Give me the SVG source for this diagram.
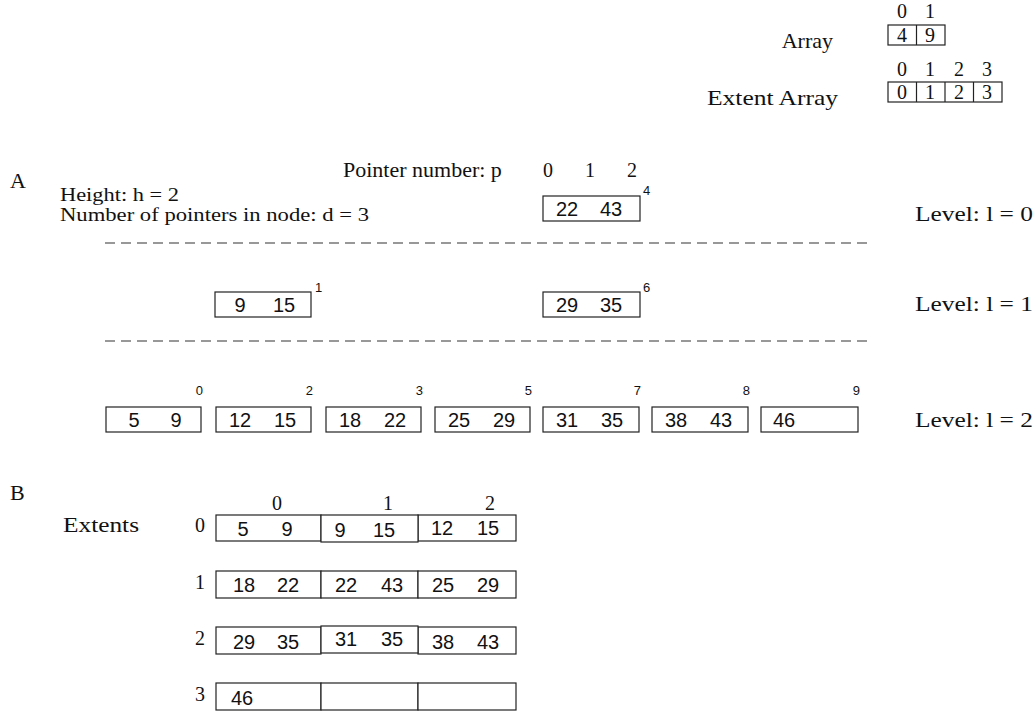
<svg xmlns="http://www.w3.org/2000/svg" width="1036" height="716" viewBox="0 0 1036 716">
  <style>
    .serif { font-family: "Liberation Serif", "Times New Roman", serif; font-size: 22px; fill: #111; }
    .note { font-family: "Liberation Serif", "Times New Roman", serif; font-size: 18px; fill: #111; }
    .label { font-family: "Liberation Serif", "Times New Roman", serif; font-size: 20px; fill: #111; text-anchor: middle; }
    .num { font-family: "Liberation Sans", Arial, sans-serif; font-size: 20px; fill: #111; text-anchor: middle; }
    .sup { font-family: "Liberation Sans", Arial, sans-serif; font-size: 13px; fill: #111; }
    .box { fill: #fff; stroke: #222; stroke-width: 1.2; }
    .div { stroke: #222; stroke-width: 1.2; }
    .dash { stroke: #777; stroke-width: 1.3; stroke-dasharray: 10 6; fill: none; }
  </style>

  <rect width="1036" height="716" fill="#fff"/>

  <!-- legend: array and extent array -->
  <g id="legend-array">
    <text class="serif" x="833" y="48" text-anchor="end">Array</text>
    <text class="label" x="902" y="18">0</text>
    <text class="label" x="930" y="18">1</text>
    <rect class="box" x="888" y="25" width="57" height="20"/>
    <line class="div" x1="916.5" y1="25" x2="916.5" y2="45"/>
    <text class="label" x="902" y="42">4</text>
    <text class="label" x="930" y="42">9</text>
  </g>
  <g id="legend-extent-array">
    <text class="serif" x="707" y="105" textLength="131" lengthAdjust="spacingAndGlyphs">Extent Array</text>
    <text class="label" x="902" y="76">0</text>
    <text class="label" x="930" y="76">1</text>
    <text class="label" x="959" y="76">2</text>
    <text class="label" x="987" y="76">3</text>
    <rect class="box" x="888" y="82" width="114" height="20"/>
    <line class="div" x1="916.5" y1="82" x2="916.5" y2="102"/>
    <line class="div" x1="945" y1="82" x2="945" y2="102"/>
    <line class="div" x1="973.5" y1="82" x2="973.5" y2="102"/>
    <text class="label" x="902" y="99">0</text>
    <text class="label" x="930" y="99">1</text>
    <text class="label" x="959" y="99">2</text>
    <text class="label" x="987" y="99">3</text>
  </g>

  <!-- part A: tree -->
  <g id="part-a-labels">
    <text class="serif" x="10" y="188">A</text>
    <text class="serif" x="343" y="177">Pointer number: p</text>
    <text class="label" x="548" y="177">0</text>
    <text class="label" x="590" y="177">1</text>
    <text class="label" x="632" y="177">2</text>
    <text class="note" x="60" y="201" textLength="119" lengthAdjust="spacingAndGlyphs">Height: h = 2</text>
    <text class="note" x="60" y="221" textLength="309" lengthAdjust="spacingAndGlyphs">Number of pointers in node: d = 3</text>
    <text class="serif" x="915" y="221" textLength="118" lengthAdjust="spacingAndGlyphs">Level: l = 0</text>
    <text class="serif" x="915" y="311" textLength="118" lengthAdjust="spacingAndGlyphs">Level: l = 1</text>
    <text class="serif" x="915" y="427" textLength="118" lengthAdjust="spacingAndGlyphs">Level: l = 2</text>
  </g>

  <g id="level-separators">
    <line class="dash" x1="105" y1="243" x2="872" y2="243"/>
    <line class="dash" x1="105" y1="341" x2="872" y2="341"/>
  </g>

  <g id="node-root">
    <rect class="box" x="543" y="196" width="97" height="25"/>
    <text class="num" x="567" y="216">22</text>
    <text class="num" x="611" y="216">43</text>
    <text class="sup" x="643" y="195">4</text>
  </g>

  <g id="node-l1-a">
    <rect class="box" x="215" y="292" width="96" height="25"/>
    <text class="num" x="240" y="312">9</text>
    <text class="num" x="284" y="312">15</text>
    <text class="sup" x="315" y="292">1</text>
  </g>
  <g id="node-l1-b">
    <rect class="box" x="543" y="292" width="97" height="25"/>
    <text class="num" x="567" y="312">29</text>
    <text class="num" x="611" y="312">35</text>
    <text class="sup" x="643" y="292">6</text>
  </g>

  <g id="leaf-0">
    <rect class="box" x="106" y="407" width="95" height="25"/>
    <text class="num" x="134" y="427">5</text>
    <text class="num" x="176" y="427">9</text>
    <text class="sup" x="203" y="395" text-anchor="end">0</text>
  </g>
  <g id="leaf-2">
    <rect class="box" x="216" y="407" width="95" height="25"/>
    <text class="num" x="240" y="427">12</text>
    <text class="num" x="285" y="427">15</text>
    <text class="sup" x="313" y="395" text-anchor="end">2</text>
  </g>
  <g id="leaf-3">
    <rect class="box" x="326" y="407" width="95" height="25"/>
    <text class="num" x="350" y="427">18</text>
    <text class="num" x="395" y="427">22</text>
    <text class="sup" x="423" y="395" text-anchor="end">3</text>
  </g>
  <g id="leaf-5">
    <rect class="box" x="435" y="407" width="95" height="25"/>
    <text class="num" x="459" y="427">25</text>
    <text class="num" x="504" y="427">29</text>
    <text class="sup" x="532" y="395" text-anchor="end">5</text>
  </g>
  <g id="leaf-7">
    <rect class="box" x="543" y="407" width="96" height="25"/>
    <text class="num" x="567" y="427">31</text>
    <text class="num" x="612" y="427">35</text>
    <text class="sup" x="641" y="395" text-anchor="end">7</text>
  </g>
  <g id="leaf-8">
    <rect class="box" x="652" y="407" width="96" height="25"/>
    <text class="num" x="676" y="427">38</text>
    <text class="num" x="721" y="427">43</text>
    <text class="sup" x="750" y="395" text-anchor="end">8</text>
  </g>
  <g id="leaf-9">
    <rect class="box" x="761" y="407" width="97" height="25"/>
    <text class="num" x="784" y="427">46</text>
    <text class="sup" x="860" y="395" text-anchor="end">9</text>
  </g>

  <!-- part B: extents table, one rect per cell -->
  <g id="part-b-labels">
    <text class="serif" x="10" y="500">B</text>
    <text class="serif" x="63" y="532" textLength="76" lengthAdjust="spacingAndGlyphs">Extents</text>
    <text class="label" x="277" y="510">0</text>
    <text class="label" x="388" y="510">1</text>
    <text class="label" x="490" y="510">2</text>
    <text class="label" x="200" y="532">0</text>
    <text class="label" x="200" y="589">1</text>
    <text class="label" x="200" y="645">2</text>
    <text class="label" x="200" y="701">3</text>
  </g>

  <g id="extent-row-0">
    <rect class="box" x="216" y="515" width="105" height="26"/>
    <rect class="box" x="418" y="515" width="98" height="26"/>
    <rect class="box" x="321" y="515" width="97" height="27"/>
    <text class="num" x="243" y="536">5</text>
    <text class="num" x="287" y="536">9</text>
    <text class="num" x="340" y="537">9</text>
    <text class="num" x="384" y="537">15</text>
    <text class="num" x="442" y="535">12</text>
    <text class="num" x="488" y="535">15</text>
  </g>
  <g id="extent-row-1">
    <rect class="box" x="216" y="571" width="105" height="27"/>
    <rect class="box" x="321" y="571" width="97" height="27"/>
    <rect class="box" x="418" y="571" width="98" height="27"/>
    <text class="num" x="244" y="592">18</text>
    <text class="num" x="288" y="592">22</text>
    <text class="num" x="346" y="592">22</text>
    <text class="num" x="392" y="592">43</text>
    <text class="num" x="443" y="592">25</text>
    <text class="num" x="488" y="592">29</text>
  </g>
  <g id="extent-row-2">
    <rect class="box" x="216" y="627" width="105" height="27"/>
    <rect class="box" x="418" y="627" width="98" height="27"/>
    <rect class="box" x="321" y="626" width="97" height="27"/>
    <text class="num" x="244" y="649">29</text>
    <text class="num" x="288" y="649">35</text>
    <text class="num" x="346" y="646">31</text>
    <text class="num" x="392" y="646">35</text>
    <text class="num" x="443" y="649">38</text>
    <text class="num" x="488" y="649">43</text>
  </g>
  <g id="extent-row-3">
    <rect class="box" x="216" y="683" width="105" height="27"/>
    <rect class="box" x="321" y="683" width="97" height="27"/>
    <rect class="box" x="418" y="683" width="98" height="27"/>
    <text class="num" x="242" y="705">46</text>
  </g>
</svg>
